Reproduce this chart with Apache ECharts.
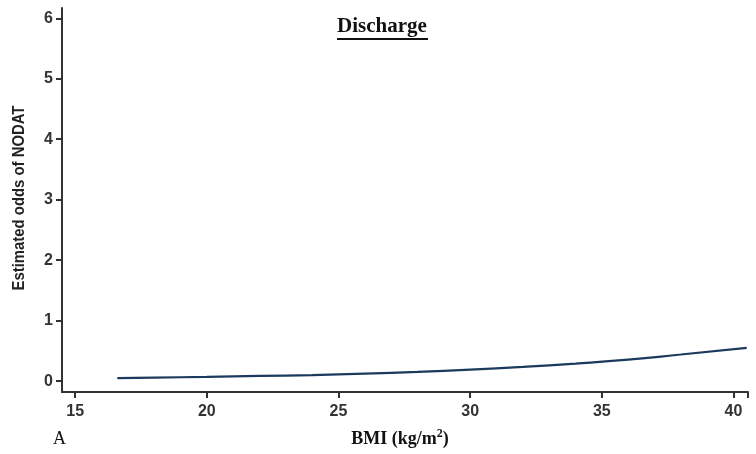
<!DOCTYPE html>
<html><head><meta charset="utf-8">
<script src="https://cdn.jsdelivr.net/npm/echarts@6/dist/echarts.min.js"></script>
<style>html,body{margin:0;padding:0;background:#fff}#c{width:756px;height:454px}</style>
</head><body><div id="c"></div>
<script>
const bmi = [16.6, 18, 20, 22, 24, 26, 28, 30, 32, 34, 36, 38, 40.5];
const odds = [0.05, 0.058, 0.07, 0.085, 0.10, 0.123, 0.152, 0.19, 0.235, 0.29, 0.355, 0.44, 0.55];
const xTicks = [15, 20, 25, 30, 35, 40];
const yTicks = [0, 1, 2, 3, 4, 5, 6];
const titleText = 'Discharge';
const xNameMain = 'BMI (kg/m';
const xNameSup = '2';
const xNameEnd = ')';
const yName = 'Estimated odds of NODAT';
const panelLabel = 'A';

const chart = echarts.init(document.getElementById('c'), null, {renderer: 'canvas'});
const axisCol = '#333';
const tickFont = {color: '#333', fontFamily: 'Liberation Sans, Arial, sans-serif', fontWeight: 'bold', fontSize: 16};
chart.setOption({
  animation: false,
  backgroundColor: '#fff',
  grid: [
    {left: 62, right: 8, top: 8, bottom: 62, outerBoundsMode: 'none'},
    {left: 75, right: 8, top: 8, bottom: 62, outerBoundsMode: 'none'}
  ],
  xAxis: [{
    type: 'value', gridIndex: 0, min: 14.5, max: 40.55,
    axisLine: {show: true, onZero: false, lineStyle: {color: axisCol, width: 2}},
    axisTick: {show: false},
    axisLabel: Object.assign({customValues: xTicks, margin: 12, hideOverlap: false}, tickFont),
    splitLine: {show: false}
  }, {
    type: 'value', gridIndex: 1, min: 15, max: 40.55, interval: 5,
    axisLine: {show: false, onZero: false},
    axisTick: {show: true, inside: false, length: 6, lineStyle: {color: axisCol, width: 2}},
    axisLabel: {show: false},
    splitLine: {show: false}
  }],
  yAxis: [{
    type: 'value', gridIndex: 0, min: -0.18, max: 6.17,
    axisLine: {show: true, onZero: false, lineStyle: {color: axisCol, width: 2}},
    axisTick: {show: true, inside: false, customValues: yTicks, length: 6, lineStyle: {color: axisCol, width: 2}},
    axisLabel: Object.assign({customValues: yTicks, margin: 9}, tickFont),
    splitLine: {show: false}
  }, {
    type: 'value', gridIndex: 1, min: 0, max: 1, show: false
  }],
  series: [{
    type: 'line', xAxisIndex: 0, yAxisIndex: 0, data: bmi.map((x, i) => [x, odds[i]]),
    smooth: true, symbol: 'none',
    lineStyle: {color: '#1b3a5e', width: 2.2}
  }],
  graphic: [
    {type: 'text', x: 382, y: 37, style: {text: titleText, font: 'bold 21px "Liberation Serif", "Times New Roman", serif', fill: '#111', align: 'center', verticalAlign: 'bottom'}},
    {type: 'rect', shape: {x: 337, y: 38, width: 91, height: 2}, style: {fill: '#111'}},
    {type: 'text', x: 400, y: 448, style: {
      text: '{m|' + xNameMain + '}{s|' + xNameSup + '}{m|' + xNameEnd + '}',
      align: 'center', verticalAlign: 'bottom',
      rich: {
        m: {font: 'bold 18px "Liberation Serif", "Times New Roman", serif', fill: '#111', verticalAlign: 'bottom'},
        s: {font: 'bold 12px "Liberation Serif", "Times New Roman", serif', fill: '#111', verticalAlign: 'top', padding: [0, 0, 8, 0]}
      }
    }},
    {type: 'text', x: 53, y: 448, style: {text: panelLabel, font: '18px "Liberation Serif", "Times New Roman", serif', fill: '#111', verticalAlign: 'bottom'}},
    {type: 'text', x: 20, y: 198, rotation: Math.PI / 2, scaleX: 0.93, style: {text: yName, font: 'bold 16px "Liberation Sans Narrow", "Liberation Sans", Arial, sans-serif', fill: '#222', align: 'center', verticalAlign: 'middle'}}
  ]
});
</script></body></html>
